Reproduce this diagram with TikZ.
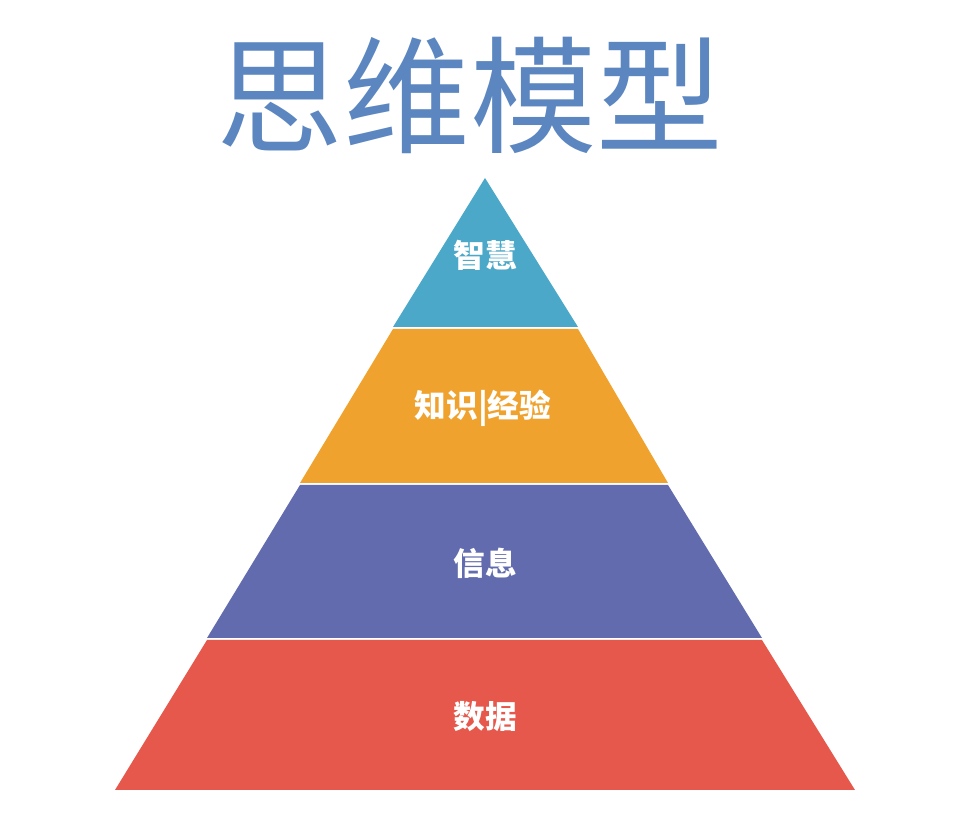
\documentclass[tikz,border=0pt]{standalone}
\usepackage{fontspec}
\newfontfamily\cjk{Noto Sans CJK SC}
\usetikzlibrary{positioning}
\definecolor{wisdom}{HTML}{4BA8C8}
\definecolor{knowledge}{HTML}{F0A22E}
\definecolor{info}{HTML}{626BAE}
\definecolor{datared}{HTML}{E5584B}
\definecolor{titleblue}{HTML}{5B86C0}
\tikzset{band/.style={draw=none}, lbl/.style={text=white, font=\cjk\bfseries\fontsize{9}{10}\selectfont}}
\begin{document}
\begin{tikzpicture}[x=0.01cm, y=-0.01cm]
            \useasboundingbox (0,0) rectangle (954,813);
            % title
            \node[text=titleblue, font=\cjk\fontsize{36}{40}\selectfont] (title) at (470,95) {思维模型};

            % pyramid bands
            \fill[band, wisdom] (485,178) -- (578,327) -- (393,327) -- cycle;
            \fill[band, knowledge] (393,329) -- (578,329) -- (668,483) -- (300,483) -- cycle;
            \fill[band, info] (300,485) -- (668,485) -- (762,638) -- (207,638) -- cycle;
            \fill[band, datared] (207,640) -- (762,640) -- (855,790) -- (115,790) -- cycle;

            % labels
            \node[lbl] (zhihui) at (485,255) {智慧};
            \node[lbl] (zhishi) at (483,408) {知识|经验};
            \node[lbl] (xinxi) at (485,563) {信息};
            \node[lbl] (shuju) at (485,717) {数据};
        \end{tikzpicture}
\end{document}
